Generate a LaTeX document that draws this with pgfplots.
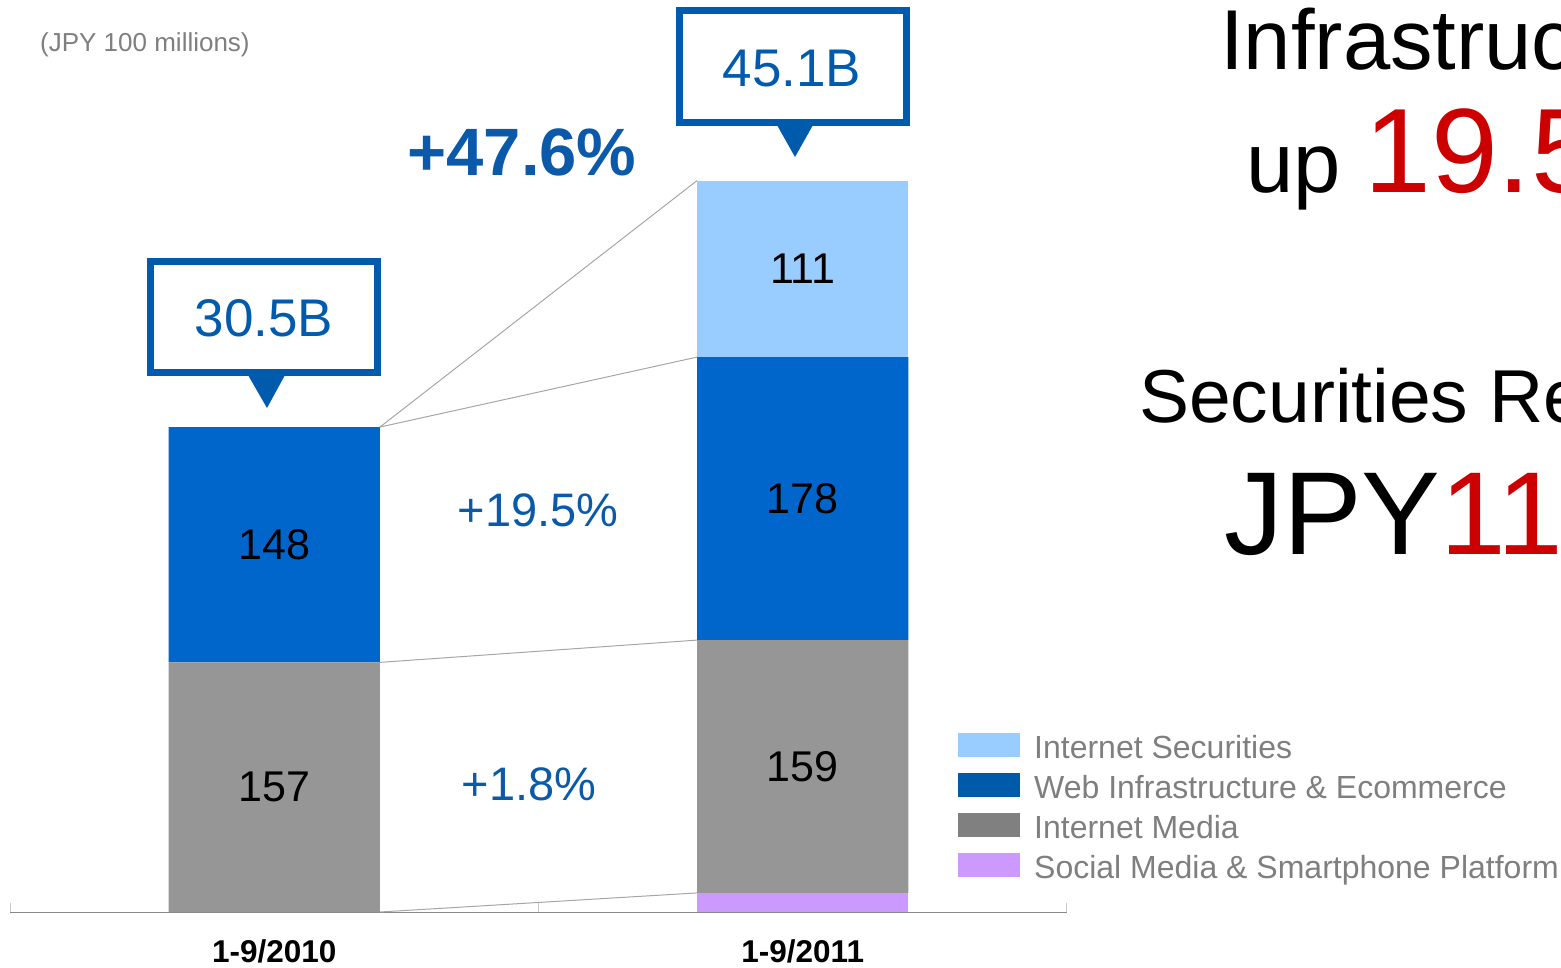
\documentclass[border=0pt]{standalone}
\usepackage{fontspec}
\setmainfont{Liberation Sans}
\usepackage{pgfplots}
\pgfplotsset{compat=1.18}
\usepackage{pgfplotstable}

\definecolor{secc}{HTML}{99CCFF}
\definecolor{webc}{HTML}{0066CC}
\definecolor{webleg}{HTML}{005AAA}
\definecolor{mediac}{HTML}{969696}
\definecolor{medialeg}{HTML}{808080}
\definecolor{socialc}{HTML}{CC99FF}
\definecolor{callblue}{HTML}{005BAC}
\definecolor{pctblue}{HTML}{0B5AAA}
\definecolor{redc}{HTML}{CC0000}
\definecolor{leggray}{HTML}{7F7F7F}
\definecolor{conngray}{HTML}{A6A6A6}
\definecolor{axisgray}{HTML}{888888}
\definecolor{tickgray}{HTML}{C8C8C8}

\pgfplotstableread{
x social media web sec
0 0  157 148 0
1 12 159 178 111
}\revtable

\newcommand{\fs}[1]{\fontsize{#1}{#1}\selectfont}

\begin{document}
\begin{tikzpicture}
\useasboundingbox (0pt,0pt) rectangle (1561pt,967pt);

\begin{axis}[
  at={(10pt,55pt)}, anchor=south west,
  scale only axis, width=1057pt, height=795pt,
  xmin=-0.5, xmax=1.5, ymin=0, ymax=500,
  ybar stacked, bar width=0.4,
  axis x line*=bottom, axis y line=none,
  x axis line style={draw=axisgray, line width=1pt},
  xtick={0,1}, xticklabels={1-9/2010,1-9/2011},
  major tick length=0pt,
  extra x ticks={-0.5,0.5,1.5}, extra x tick labels={},
  extra x tick style={major tick length=9pt, tick align=inside,
    tick style={draw=tickgray, line width=1pt}},
  xticklabel style={font=\fs{31.5}\bfseries, anchor=base, yshift=-50pt, inner sep=0pt},
  ytick=\empty,
  legend style={at={(0.8969,0.2252)}, anchor=north west, draw=none, fill=none,
    font=\fs{32}, text=leggray, row sep=0pt, column sep=14pt, inner sep=0pt,
    nodes={inner sep=0pt, text height=24pt, text depth=15pt},
    cells={anchor=base west}},
  reverse legend,
]
\addplot[fill=socialc, draw=none,
  legend image code/.code={\fill[socialc] (0pt,1pt) rectangle (62pt,25pt);}]
  table[x=x,y=social]{\revtable};
\addlegendentry{Social Media \& Smartphone Platform}
\addplot[fill=mediac, draw=none,
  legend image code/.code={\fill[medialeg] (0pt,1pt) rectangle (62pt,25pt);}]
  table[x=x,y=media]{\revtable};
\addlegendentry{Internet Media}
\addplot[fill=webc, draw=none,
  legend image code/.code={\fill[webleg] (0pt,1pt) rectangle (62pt,25pt);}]
  table[x=x,y=web]{\revtable};
\addlegendentry{Web Infrastructure \& Ecommerce}
\addplot[fill=secc, draw=none,
  legend image code/.code={\fill[secc] (0pt,1pt) rectangle (62pt,25pt);}]
  table[x=x,y=sec]{\revtable};
\addlegendentry{Internet Securities}
\end{axis}

\begin{axis}[
  at={(10pt,55pt)}, anchor=south west,
  scale only axis, width=1057pt, height=795pt,
  xmin=-0.5, xmax=1.5, ymin=0, ymax=500,
  hide axis, clip=false,
]
\addplot[conngray, line width=1pt, mark=none] coordinates {(0.2,305) (0.8,460)};
\addplot[conngray, line width=1pt, mark=none] coordinates {(0.2,305) (0.8,349)};
\addplot[conngray, line width=1pt, mark=none] coordinates {(0.2,157) (0.8,171)};
\addplot[conngray, line width=1pt, mark=none] coordinates {(0.2,0) (0.8,12)};
\node[font=\fs{43}, inner sep=0pt] at (axis cs:0,78.5) {157};
\node[font=\fs{43}, inner sep=0pt] at (axis cs:0,231) {148};
\node[font=\fs{43}, inner sep=0pt] at (axis cs:1,91.5) {159};
\node[font=\fs{43}, inner sep=0pt] at (axis cs:1,260) {178};
\node[font=\fs{43}, inner sep=0pt] at (axis cs:1,404.5) {111};
\end{axis}

\begin{scope}[x=1pt,y=1pt]
% unit note
\node[anchor=base west, inner sep=0pt, font=\fs{26}, text=leggray] at (40,915) {(JPY 100 millions)};

% callout 30.5B
\draw[callblue, line width=7pt, fill=white] (150.5,705.5) rectangle (377.5,594.5);
\fill[callblue] (248,592) -- (285,592) -- (267,559) -- cycle;
\node[anchor=base, inner sep=0pt, font=\fs{53}, text=callblue] at (264,630) {30.5B};

% callout 45.1B
\draw[callblue, line width=7pt, fill=white] (679.5,956.5) rectangle (906.5,844.5);
\fill[callblue] (777,842) -- (813,842) -- (795,810) -- cycle;
\node[anchor=base, inner sep=0pt, font=\fs{53}, text=callblue] at (792,880) {45.1B};

% growth labels
\node[anchor=base, inner sep=0pt, font=\fs{67}\bfseries, text=pctblue] at (522,791) {+47.6\%};
\node[anchor=base, inner sep=0pt, font=\fs{47}, text=pctblue] at (538,440) {+19.5\%};
\node[anchor=base, inner sep=0pt, font=\fs{47}, text=pctblue] at (529,166) {+1.8\%};

% right-hand headline text (cut off at the page edge, as in the original)
\node[anchor=base west, inner sep=0pt, font=\fs{85}] at (1220,897) {Infrastructure};
\node[anchor=base west, inner sep=0pt, font=\fs{85}] at (1246,774) {up \textcolor{redc}{\fs{120}19.5\%}};
\node[anchor=base west, inner sep=0pt, font=\fs{75}] at (1139,544) {Securities Revenue};
\node[anchor=base west, inner sep=0pt, font=\fs{118}] at (1224,412) {JPY\textcolor{redc}{11.1B}};
\end{scope}
\end{tikzpicture}
\end{document}
